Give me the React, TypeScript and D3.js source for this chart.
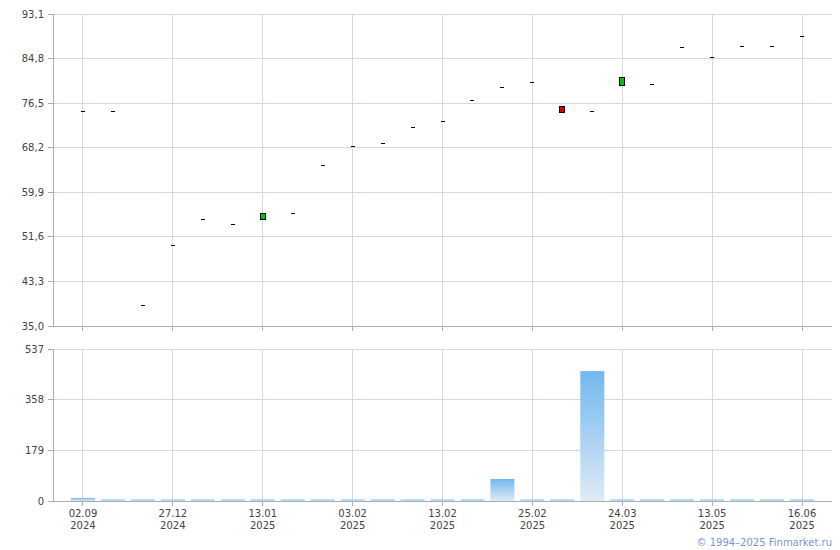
import React from "react";
import * as d3 from "d3";

const dates = ["02.09\n2024","","","27.12\n2024","","","13.01\n2025","","","03.02\n2025","","","13.02\n2025","","","25.02\n2025","","","24.03\n2025","","","13.05\n2025","","","16.06\n2025"];
const openVals = [75.0, 75.0, 39.0, 50.0, 54.9, 54.0, 54.9, 56.0, 64.9, 68.5, 69.0, 72.0, 73.1, 77.0, 79.5, 80.4, 76.0, 75.0, 79.9, 80.0, 86.9, 85.0, 87.1, 87.1, 89.0];
const closeVals = [75.0, 75.0, 39.0, 50.0, 54.9, 54.0, 56.0, 56.0, 64.9, 68.5, 69.0, 72.0, 73.1, 77.0, 79.5, 80.4, 74.9, 75.0, 81.3, 80.0, 86.9, 85.0, 87.1, 87.1, 89.0];
const volumes = [11, 3, 3, 3, 3, 3, 3, 3, 3, 3, 3, 3, 3, 3, 78, 3, 3, 459, 3, 3, 3, 3, 3, 3, 3];
const priceTicks = [35.0, 43.3, 51.6, 59.9, 68.2, 76.5, 84.8, 93.1];
const volTicks = [0, 179, 358, 537];

const W = 840, H = 550;
const left = 53, right = 832;
const pTop = 14, pBot = 326;
const vTop = 349, vBot = 501;
const FONT = "DejaVu Sans, Verdana, sans-serif";
const gridC = "#d3d9de";
const axisC = "#a9adb8";
const textC = "#444";

export default function App() {
  const idx = d3.range(openVals.length);
  const x = d3.scalePoint<number>().domain(idx).range([left, right]).padding(1);
  const y = d3.scaleLinear().domain([35.0, 93.1]).range([pBot, pTop]);
  const yv = d3.scaleLinear().domain([0, 537]).range([vBot, vTop]);
  const labelIdx = idx.filter((i) => dates[i] !== "");
  const barW = 24;

  return (
    <svg width={W} height={H} style={{ position: "absolute", left: 0, top: 0, background: "#fff" }} fontFamily={FONT}>
      <defs>
        <linearGradient id="vg" x1="0" y1="0" x2="0" y2="1">
          <stop offset="0" stopColor="#72b8ee" />
          <stop offset="1" stopColor="#dfeaf7" />
        </linearGradient>
      </defs>
      {/* price panel grid */}
      {priceTicks.map((t) => (
        <g key={"pt" + t}>
          <line x1={left} x2={right} y1={y(t)} y2={y(t)} stroke={t === 35 ? axisC : gridC} strokeWidth={1} shapeRendering="crispEdges" />
          <line x1={left - 5} x2={left} y1={y(t)} y2={y(t)} stroke={axisC} shapeRendering="crispEdges" />
          <text x={left - 9} y={y(t) + 3.5} textAnchor="end" fontSize={10} fill={textC}>{t.toFixed(1).replace(".", ",")}</text>
        </g>
      ))}
      {labelIdx.map((i) => (
        <g key={"vg" + i}>
          <line x1={x(i)} x2={x(i)} y1={pTop} y2={pBot} stroke={gridC} shapeRendering="crispEdges" />
          <line x1={x(i)} x2={x(i)} y1={pBot} y2={pBot + 5} stroke={axisC} shapeRendering="crispEdges" />
          <line x1={x(i)} x2={x(i)} y1={vTop} y2={vBot} stroke={gridC} shapeRendering="crispEdges" />
          <line x1={x(i)} x2={x(i)} y1={vBot} y2={vBot + 5} stroke={axisC} shapeRendering="crispEdges" />
          {dates[i].split("\n").map((s, k) => (
            <text key={k} x={x(i)} y={vBot + 16 + k * 12} textAnchor="middle" fontSize={10} fill={textC}>{s}</text>
          ))}
        </g>
      ))}
      <line x1={left} x2={right} y1={pBot} y2={pBot} stroke={axisC} shapeRendering="crispEdges" />
      <line x1={left} x2={left} y1={pTop} y2={pBot} stroke={axisC} shapeRendering="crispEdges" />
      {/* candles */}
      {idx.map((i) => {
        const cx = Math.round(x(i)!);
        const o = openVals[i], c = closeVals[i];
        if (Math.abs(o - c) < 0.05) {
          return <line key={"c" + i} x1={cx - 2} x2={cx + 2} y1={Math.round(y(c)) + 0.5} y2={Math.round(y(c)) + 0.5} stroke="#000" strokeWidth={1} />;
        }
        const top = Math.round(y(Math.max(o, c)));
        const bot = Math.round(y(Math.min(o, c)));
        return (
          <rect key={"c" + i} x={cx - 2.5} y={top + 0.5} width={5} height={bot - top} fill={c > o ? "#00c400" : "#d40000"} stroke="#000" strokeWidth={1} />
        );
      })}
      {/* volume panel */}
      {volTicks.map((t) => (
        <g key={"vt" + t}>
          <line x1={left} x2={right} y1={yv(t)} y2={yv(t)} stroke={t === 0 ? axisC : gridC} shapeRendering="crispEdges" />
          <line x1={left - 5} x2={left} y1={yv(t)} y2={yv(t)} stroke={axisC} shapeRendering="crispEdges" />
          <text x={left - 9} y={yv(t) + 3.5} textAnchor="end" fontSize={10} fill={textC}>{t}</text>
        </g>
      ))}
      {idx.map((i) => {
        const h = Math.max(1.5, vBot - yv(volumes[i]));
        return <rect key={"v" + i} x={x(i)! - barW / 2} y={vBot - h} width={barW} height={h} fill="url(#vg)" />;
      })}
      <line x1={left} x2={right} y1={vBot} y2={vBot} stroke={axisC} shapeRendering="crispEdges" />
      <line x1={left} x2={left} y1={vTop} y2={vBot} stroke={axisC} shapeRendering="crispEdges" />
      <text x={right} y={546} textAnchor="end" fontSize={10} fill="#7a95d6">© 1994–2025 Finmarket.ru</text>
    </svg>
  );
}
